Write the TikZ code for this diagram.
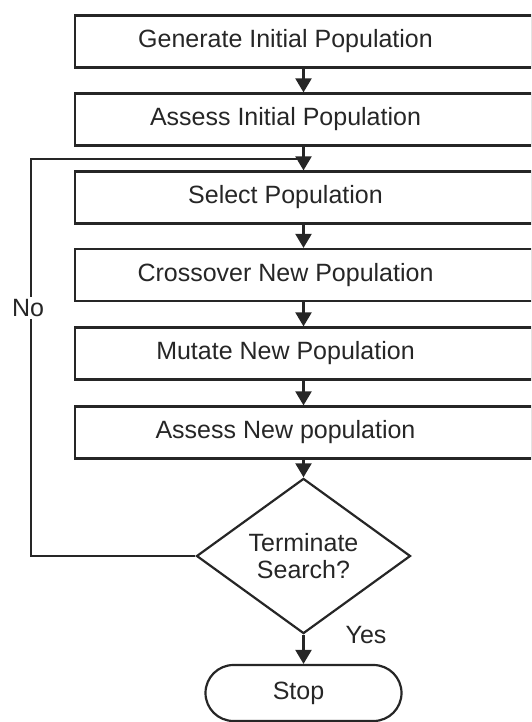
\documentclass[tikz,border=0pt]{standalone}
\usepackage{fontspec}
\setmainfont{Liberation Sans}
\usetikzlibrary{arrows.meta,shapes.geometric,shapes.misc}
\tikzset{
    stepbox/.style={draw=black!85, line width=2.2pt, minimum width=457pt, minimum height=52pt,
        inner sep=0pt, font=\fontsize{25}{27}\selectfont, text=black!85,
        execute at end node={\hspace*{36pt}}},
    testbox/.style={diamond, draw=black!85, line width=2.2pt, minimum width=214pt, minimum height=127pt,
        inner sep=0pt, align=center, font=\fontsize{25}{27}\selectfont, text=black!85},
    endbox/.style={rounded rectangle, draw=black!85, line width=2.2pt, minimum width=196pt, minimum height=56pt,
        inner sep=0pt, font=\fontsize{25}{27}\selectfont, text=black!85},
    flow/.style={draw=black!85, line width=2.2pt, -{Triangle[width=16pt,length=14pt]}},
    loopline/.style={draw=black!85, line width=2.2pt},
    tag/.style={font=\fontsize{25}{27}\selectfont, text=black!85, inner sep=2pt}
}
\begin{document}
\begin{tikzpicture}[x=1pt, y=-1pt]
    \useasboundingbox (0,0) rectangle (531,722);
    \clip (0,0) rectangle (531,722);
    \node[stepbox] (gen) at (303.5,41.5) {Generate Initial Population};
    \node[stepbox] (assessinit) at (303.5,119.5) {Assess Initial Population};
    \node[stepbox] (select) at (303.5,197.5) {Select Population};
    \node[stepbox] (cross) at (303.5,275) {Crossover New Population};
    \node[stepbox] (mutate) at (303.5,353.5) {Mutate New Population};
    \node[stepbox] (assessnew) at (303.5,432.5) {Assess New population};
    \node[testbox] (term) at (303.5,556) {Terminate\\Search?};
    \node[endbox] (stop) at (303.5,693) {Stop\hspace*{10pt}};
    \coordinate (corner) at (31,159);
    \coordinate (join) at (303.5,159);
    \draw[flow] (gen) -- (assessinit);
    \draw[flow] (assessinit) -- (select);
    \draw[flow] (select) -- (cross);
    \draw[flow] (cross) -- (mutate);
    \draw[flow] (mutate) -- (assessnew);
    \draw[flow] (assessnew) -- (term);
    \draw[flow] (term) -- (stop);
    \draw[loopline] (term.west) -| (corner) -- (join);
    \node[tag, fill=white] (no) at (28,308) {No};
    \node[tag] (yes) at (366,635) {Yes};
\end{tikzpicture}
\end{document}
